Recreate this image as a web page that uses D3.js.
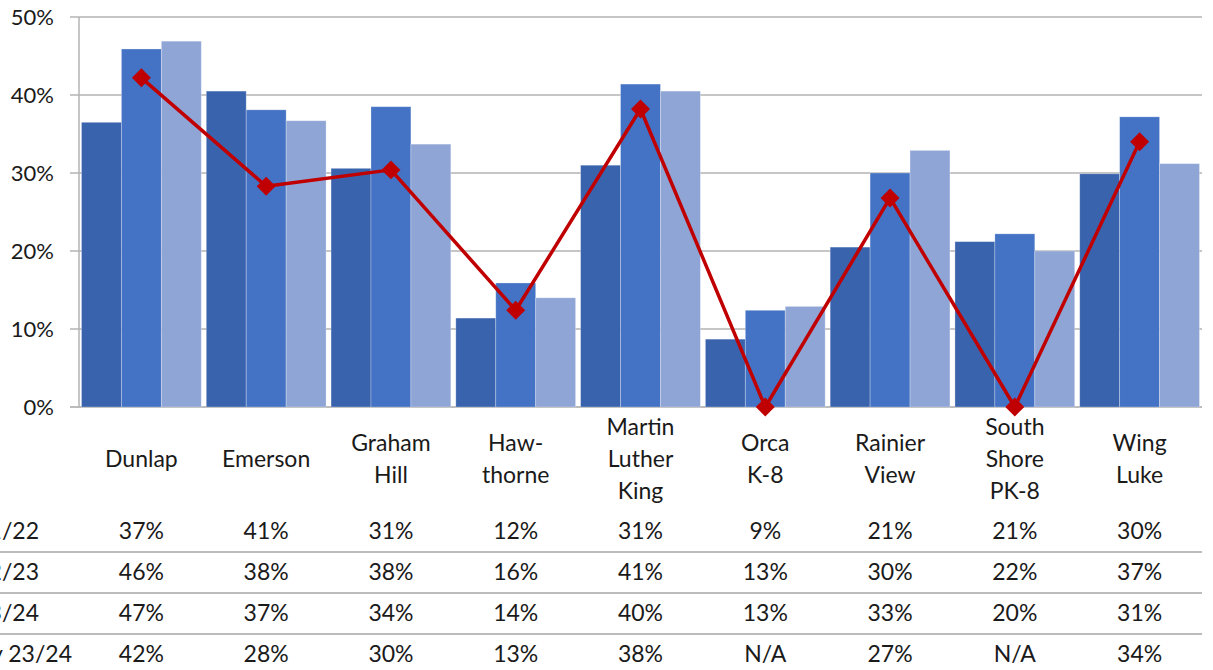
<!DOCTYPE html>
<html>
<head>
<meta charset="utf-8">
<script src="https://cdn.jsdelivr.net/npm/d3@7"></script>
<style>
	body { margin: 0; background: #fff; }
	svg { display: block; font-family: Lato, "Noto Sans", sans-serif; }
</style>
</head>
<body>
<div id="chart"></div>
<script>
var schools = ["Dunlap", "Emerson", "Graham Hill", "Haw-thorne", "Martin Luther King", "Orca K-8", "Rainier View", "South Shore PK-8", "Wing Luke"];
var labelLines = [["Dunlap"], ["Emerson"], ["Graham", "Hill"], ["Haw-", "thorne"], ["Martin", "Luther", "King"], ["Orca", "K-8"], ["Rainier", "View"], ["South", "Shore", "PK-8"], ["Wing", "Luke"]];
var seriesNames = ["2021/22", "2022/23", "2023/24"];
var y2122 = [36.5, 40.5, 30.6, 11.4, 31.0, 8.7, 20.5, 21.2, 29.9];
var y2223 = [45.9, 38.1, 38.5, 15.9, 41.4, 12.4, 30.0, 22.2, 37.2];
var y2324 = [46.9, 36.7, 33.7, 14.0, 40.5, 12.9, 32.9, 20.0, 31.2];
var survey = [42.2, 28.3, 30.4, 12.4, 38.2, 0, 26.8, 0, 34.0];
var surveyName = "Survey 23/24";
var tableRows = [
	["37%", "41%", "31%", "12%", "31%", "9%", "21%", "21%", "30%"],
	["46%", "38%", "38%", "16%", "41%", "13%", "30%", "22%", "37%"],
	["47%", "37%", "34%", "14%", "40%", "13%", "33%", "20%", "31%"],
	["42%", "28%", "30%", "13%", "38%", "N/A", "27%", "N/A", "34%"]
];
var rowNames = seriesNames.concat([surveyName]);
var yTicks = [0, 10, 20, 30, 40, 50];

var colors = ["#3a63ad", "#4472c4", "#8fa5d6"];
var lineColor = "#c00000";

var W = 1213, H = 670;
var plot = { left: 79, right: 1202, top: 17, bottom: 407 };

var svg = d3.select("#chart").append("svg")
	.attr("width", W)
	.attr("height", H);

var x = d3.scaleBand()
	.domain(schools)
	.range([plot.left, plot.right])
	.paddingInner(0.04)
	.paddingOuter(0.02);
var xs = d3.scaleBand()
	.domain(seriesNames)
	.range([0, x.bandwidth()]);
var y = d3.scaleLinear()
	.domain([0, 50])
	.range([plot.bottom, plot.top]);

// gridlines
svg.append("g")
	.selectAll("line")
	.data(yTicks)
	.enter()
		.append("line")
		.attr("x1", plot.left - 9)
		.attr("x2", plot.right)
		.attr("y1", function(d) { return y(d); })
		.attr("y2", function(d) { return y(d); })
		.attr("stroke", function(d) { return d == 0 ? "#a6a6a6" : "#b3b3b3"; })
		.attr("stroke-width", 1.5);

svg.append("line")
	.attr("x1", plot.left).attr("x2", plot.left)
	.attr("y1", plot.top).attr("y2", plot.bottom)
	.attr("stroke", "#b3b3b3")
	.attr("stroke-width", 1.5);

// y labels
svg.append("g")
	.selectAll("text")
	.data(yTicks)
	.enter()
		.append("text")
		.attr("x", 54)
		.attr("y", function(d) { return y(d); })
		.attr("dy", "0.35em")
		.attr("text-anchor", "end")
		.attr("font-size", 22)
		.attr("fill", "#1a1a1a")
		.text(function(d) { return d + "%"; });

// bars
var seriesVals = [y2122, y2223, y2324];
var bars = svg.append("g");
seriesVals.forEach(function(vals, si) {
	bars.append("g")
		.selectAll("rect")
		.data(vals)
		.enter()
			.append("rect")
			.attr("x", function(d, i) { return x(schools[i]) + xs(seriesNames[si]); })
			.attr("width", xs.bandwidth())
			.attr("y", function(d) { return y(d); })
			.attr("height", function(d) { return y(0) - y(d); })
			.attr("fill", colors[si])
			.attr("stroke", "#ffffff")
			.attr("stroke-opacity", 0.35)
			.attr("stroke-width", 0.8);
});

// survey line
var cx = function(d, i) { return x(schools[i]) + x.bandwidth() / 2; };
var line = d3.line()
	.x(cx)
	.y(function(d) { return y(d); });
svg.append("path")
	.attr("d", line(survey))
	.attr("fill", "none")
	.attr("stroke", lineColor)
	.attr("stroke-width", 3.5)
	.attr("stroke-linejoin", "round");
svg.append("g")
	.selectAll("path")
	.data(survey)
	.enter()
		.append("path")
		.attr("d", d3.symbol().type(d3.symbolSquare).size(180))
		.attr("transform", function(d, i) { return "translate(" + cx(d, i) + "," + y(d) + ") rotate(45)"; })
		.attr("fill", lineColor);

// category labels
var lh = 32;
var labels = svg.append("g")
	.attr("font-size", 23)
	.attr("fill", "#1a1a1a")
	.attr("text-anchor", "middle");
labelLines.forEach(function(lines, i) {
	var t = labels.append("text")
		.attr("x", x(schools[i]) + x.bandwidth() / 2)
		.attr("y", 459 - (lines.length - 1) * lh / 2);
	lines.forEach(function(s, j) {
		t.append("tspan")
			.attr("x", x(schools[i]) + x.bandwidth() / 2)
			.attr("dy", j == 0 ? "0.35em" : lh)
			.text(s);
	});
});

// data table (row names run off the left edge, as in the original crop)
var rowY = [531, 572, 613, 654];
var rowLabelEnd = [39, 39, 39, 72];
var table = svg.append("g")
	.attr("font-size", 23)
	.attr("fill", "#1a1a1a");
[552, 593, 634].forEach(function(yy) {
	table.append("line")
		.attr("x1", 0).attr("x2", plot.right)
		.attr("y1", yy).attr("y2", yy)
		.attr("stroke", "#a6a6a6")
		.attr("stroke-width", 1.5);
});
rowNames.forEach(function(name, r) {
	table.append("text")
		.attr("x", rowLabelEnd[r])
		.attr("y", rowY[r])
		.attr("dy", "0.35em")
		.attr("text-anchor", "end")
		.text(name);
	table.append("g")
		.selectAll("text")
		.data(tableRows[r])
		.enter()
			.append("text")
			.attr("x", function(d, i) { return x(schools[i]) + x.bandwidth() / 2; })
			.attr("y", rowY[r])
			.attr("dy", "0.35em")
			.attr("text-anchor", "middle")
			.text(function(d) { return d; });
});
</script>
</body>
</html>
